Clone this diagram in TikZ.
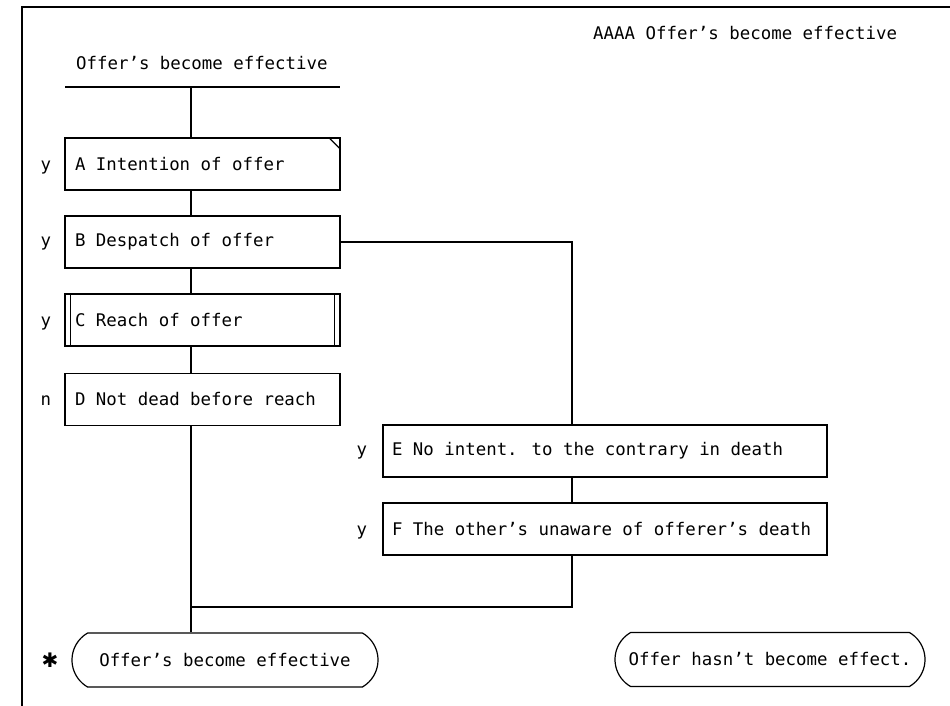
\documentclass[tikz,border=0pt]{standalone}
\usepackage{fontspec}
\newfontfamily\dmono{DejaVu Sans Mono}
\newfontfamily\dsym{DejaVu Sans}
\usetikzlibrary{shapes.misc}
\begin{document}
\begin{tikzpicture}[x=1pt,y=-1pt,
  every node/.style={font=\dmono\fontsize{17.4}{20}\selectfont},
  line/.style={line width=1.2pt},
  condbox/.style={draw, line width=1.2pt, rectangle, minimum height=52pt, inner ysep=0pt, align=flush left},
  leftbox/.style={condbox, text width=255pt, inner xsep=10pt},
  rightbox/.style={condbox, text width=426pt, inner xsep=9pt},
  endbox/.style={draw, line width=1.2pt, rounded rectangle, rounded rectangle arc length=120, minimum height=54pt, inner sep=0pt},
  lbl/.style={anchor=base east, inner sep=0pt}]
\useasboundingbox (0,0) rectangle (950,706);
% frame
\coordinate (fTL) at (22,7);
\coordinate (fTR) at (950,7);
\coordinate (fBL) at (22,706);
\draw[line width=1.5pt] (fTR) -- (fTL) -- (fBL);
% titles
\node[anchor=west, inner sep=0pt] (ttl) at (593,33) {AAAA Offer’s become effective};
\node[anchor=west, inner sep=0pt] (hdr) at (76,63) {Offer’s become effective};
\coordinate (ulL) at (65,87);
\coordinate (ulR) at (340,87);
\coordinate (sp) at (191,87);
\draw[line] (ulL) -- (ulR);
% left boxes
\node[leftbox] (A) at (202.5,164) {A Intention of offer};
\node[leftbox] (B) at (202.5,242) {B Despatch of offer};
\node[leftbox] (C) at (202.5,320) {C Reach of offer};
\node[leftbox] (D) at (202.5,399.5) {D Not dead before reach};
\draw[line] ([xshift=-12pt]A.north east) -- ([yshift=-12pt]A.north east);
\draw[line] ([xshift=6pt]C.north west) -- ([xshift=6pt]C.south west);
\draw[line] ([xshift=-6pt]C.north east) -- ([xshift=-6pt]C.south east);
\node[lbl] (lA) at ([xshift=-13pt]A.base west) {y};
\node[lbl] (lB) at ([xshift=-13pt]B.base west) {y};
\node[lbl] (lC) at ([xshift=-13pt]C.base west) {y};
\node[lbl] (lD) at ([xshift=-13pt]D.base west) {n};
% right boxes
\node[rightbox] (E) at (605,451) {E No intent. to the contrary in death};
\node[rightbox] (F) at (605,529) {F The other’s unaware of offerer’s death};
\node[lbl] (lE) at ([xshift=-15pt]E.base west) {y};
\node[lbl] (lF) at ([xshift=-15pt]F.base west) {y};
% end nodes
\node[endbox, minimum width=306pt] (O1) at (225,660) {Offer’s become effective};
\node[endbox, minimum width=310pt] (O2) at (770,659.5) {Offer hasn’t become effect.};
\node[inner sep=0pt, font=\dsym\fontsize{20}{22}\selectfont] (st) at (50,660) {✱};
% connectors
\coordinate (mg) at (0,607);
\coordinate (rs) at (572,0);
\draw[line] (sp) -- (sp |- A.north);
\draw[line] (sp |- A.south) -- (sp |- B.north);
\draw[line] (sp |- B.south) -- (sp |- C.north);
\draw[line] (sp |- C.south) -- (sp |- D.north);
\draw[line] (sp |- D.south) -- (sp |- O1.north);
\draw[line] (B.east) -| (rs |- E.north);
\draw[line] (rs |- E.south) -- (rs |- F.north);
\draw[line] (rs |- F.south) -- (rs |- mg) -- (sp |- mg);
\end{tikzpicture}
\end{document}
